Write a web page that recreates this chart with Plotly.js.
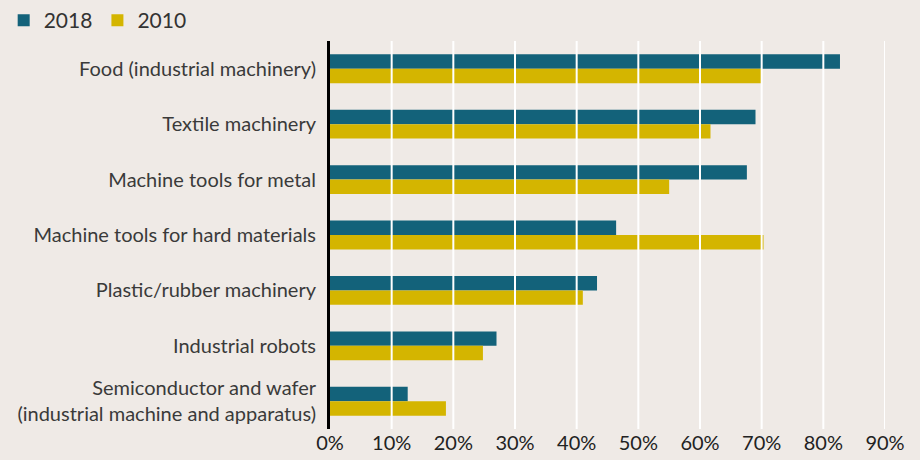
<!DOCTYPE html>
<html>
<head>
<meta charset="utf-8">
<script src="https://cdn.plot.ly/plotly-3.0.1.min.js"></script>
<style>
  html, body { margin: 0; padding: 0; background: #efeae6; }
  #chart { width: 920px; height: 460px; }
</style>
</head>
<body>
<div id="chart"></div>
<script>
const categories = [
  'Food (industrial machinery)',
  'Textile machinery',
  'Machine tools for metal',
  'Machine tools for hard materials',
  'Plastic/rubber machinery',
  'Industrial robots',
  'Semiconductor and wafer<br>(industrial machine and apparatus)'
];
const values2018 = [0.827, 0.69, 0.676, 0.464, 0.433, 0.27, 0.126];
const values2010 = [0.70, 0.617, 0.55, 0.703, 0.41, 0.248, 0.188];
const tickVals = [0, 0.1, 0.2, 0.3, 0.4, 0.5, 0.6, 0.7, 0.8, 0.9];

const traces = [
  {
    type: 'bar', orientation: 'h', name: '2018',
    y: categories, x: values2018,
    marker: { color: '#13627a' },
    hoverinfo: 'x+y'
  },
  {
    type: 'bar', orientation: 'h', name: '2010',
    y: categories, x: values2010,
    marker: { color: '#d4b500' },
    hoverinfo: 'x+y'
  }
];

// white grid lines sit on top of the bars in the original
const gridShapes = tickVals.filter(v => v > 0).map(v => ({
  type: 'line', layer: 'above',
  xref: 'x', yref: 'paper',
  x0: v, x1: v, y0: 0, y1: 1,
  line: { color: '#ffffff', width: 2 }
}));

const layout = {
  width: 920, height: 460,
  paper_bgcolor: '#efeae6',
  plot_bgcolor: '#efeae6',
  font: { family: 'Lato, "Open Sans", sans-serif', size: 20, color: '#333333' },
  margin: { l: 330, r: 35, t: 39, b: 31 },
  barmode: 'group',
  bargap: 0.48,
  bargroupgap: 0,
  showlegend: true,
  legend: {
    orientation: 'h',
    xref: 'container', yref: 'container',
    x: 0.004, y: 1.0, xanchor: 'left', yanchor: 'top',
    font: { size: 21, color: '#333333' },
    itemwidth: 30,
    bgcolor: 'rgba(0,0,0,0)'
  },
  xaxis: {
    range: [0, 0.9],
    tickvals: tickVals,
    tickformat: '.0%',
    showgrid: false,
    zeroline: false,
    ticks: '',
    tickfont: { size: 20, color: '#222222' },
    fixedrange: true
  },
  yaxis: {
    autorange: 'reversed',
    showline: true,
    linecolor: '#000000',
    linewidth: 3,
    showgrid: false,
    ticks: 'outside',
    ticklen: 7,
    tickcolor: 'rgba(0,0,0,0)',
    tickfont: { size: 20, color: '#3a3a3a' },
    fixedrange: true
  },
  shapes: gridShapes
};

Plotly.newPlot('chart', traces, layout, { displayModeBar: false, responsive: false });
</script>
</body>
</html>
